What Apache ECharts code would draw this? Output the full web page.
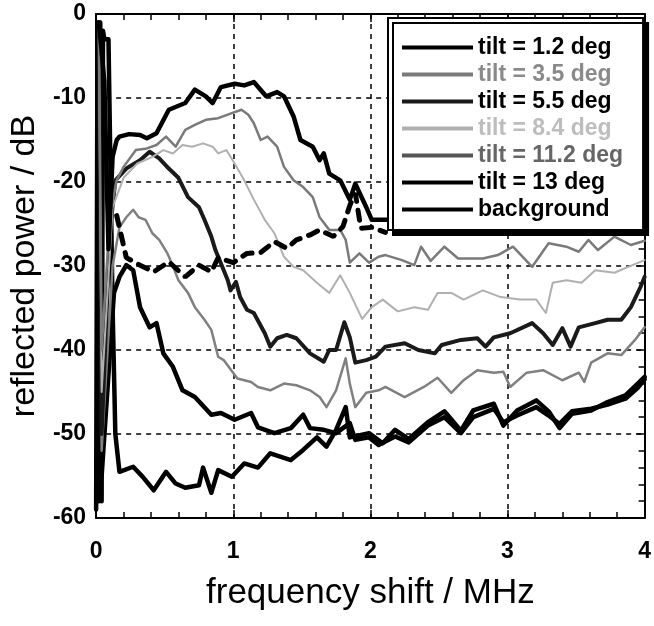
<!DOCTYPE html>
<html lang="en">
<head>
    <meta charset="utf-8">
    <title>reflected power vs frequency shift</title>
    <style>
        html, body { margin: 0; padding: 0; background: #fff; }
        #main { width: 654px; height: 626px; }
    </style>
</head>
<body>
<div id="main"></div>
<script src="https://cdn.jsdelivr.net/npm/echarts@6.0.0/dist/echarts.min.js"></script>
<script type="text/javascript">

    // frequency shift (MHz) / reflected power (dB)
    var tilt12X = [0.02, 0.06, 0.09, 0.12, 0.15, 0.17, 0.24, 0.32, 0.37, 0.44, 0.53, 0.65, 0.72, 0.80, 0.85, 0.91, 1.01, 1.08, 1.15, 1.24, 1.32, 1.37, 1.44, 1.49, 1.58, 1.63, 1.66, 1.70, 1.78, 1.85, 1.89, 1.97, 2.01, 2.13, 2.5, 3.0, 3.5, 4.0];
    var tilt12Y = [-1, -8, -28, -17, -15.0, -14.6, -14.3, -14.4, -14.8, -14.2, -11.4, -10.6, -9.0, -9.8, -10.6, -8.7, -8.3, -8.5, -8.1, -9.8, -9.3, -9.8, -12.2, -15.0, -15.8, -17.4, -16.6, -19.0, -19.8, -22.1, -20.2, -23.0, -24.5, -24.5, -23.5, -23, -22.5, -22];

    var tilt35X = [0.02, 0.04, 0.10, 0.15, 0.20, 0.29, 0.37, 0.44, 0.51, 0.58, 0.65, 0.72, 0.80, 0.89, 0.99, 1.06, 1.11, 1.15, 1.20, 1.25, 1.32, 1.37, 1.44, 1.51, 1.58, 1.63, 1.70, 1.78, 1.82, 1.85, 1.92, 1.99, 2.06, 2.11, 2.23, 2.32, 2.37, 2.44, 2.54, 2.64, 2.82, 2.93, 3.04, 3.18, 3.30, 3.43, 3.52, 3.59, 3.66, 3.78, 3.90, 4.0];
    var tilt35Y = [-2, -40, -24, -19.8, -18.2, -16.2, -16.0, -15.6, -14.6, -15.8, -13.8, -13.2, -12.6, -12.4, -11.8, -11.4, -12.0, -13.0, -15.0, -14.6, -15.8, -18.2, -19.8, -20.6, -21.8, -24.2, -25.7, -25.7, -26.9, -29.6, -28.5, -29.6, -28.9, -28.7, -29.3, -29.9, -27.7, -29.4, -27.7, -29.1, -29.1, -28.7, -27.7, -30.1, -27.3, -27.7, -28.3, -26.9, -28.1, -26.5, -27.5, -27];

    var tilt55X = [0.02, 0.04, 0.10, 0.14, 0.22, 0.32, 0.39, 0.46, 0.53, 0.60, 0.67, 0.75, 0.79, 0.84, 0.87, 0.92, 0.96, 0.98, 1.02, 1.05, 1.10, 1.15, 1.23, 1.27, 1.32, 1.39, 1.46, 1.56, 1.66, 1.70, 1.75, 1.81, 1.85, 1.89, 1.97, 2.04, 2.11, 2.25, 2.35, 2.47, 2.52, 2.66, 2.78, 2.84, 2.90, 3.02, 3.18, 3.26, 3.33, 3.40, 3.46, 3.52, 3.64, 3.73, 3.83, 3.90, 3.97, 4.0];
    var tilt55Y = [-1, -50, -26, -19.8, -18.4, -17.4, -16.4, -17.2, -18.4, -19.5, -21.8, -23.0, -24.5, -26.5, -28.1, -30.1, -31.7, -32.9, -31.9, -33.7, -35.2, -35.6, -38.0, -39.6, -38.6, -38.2, -38.6, -40.4, -41.4, -40.0, -40.0, -36.7, -38.5, -41.5, -41.2, -40.8, -39.6, -39.2, -40.0, -40.4, -39.4, -38.8, -38.6, -39.6, -38.5, -38.0, -36.8, -38.0, -39.4, -37.4, -39.6, -37.3, -36.8, -36.4, -36.4, -34.9, -32.5, -31.3];

    var tilt84X = [0.02, 0.04, 0.12, 0.2, 0.3, 0.41, 0.49, 0.56, 0.63, 0.70, 0.78, 0.85, 0.89, 0.95, 1.01, 1.08, 1.15, 1.23, 1.30, 1.37, 1.44, 1.51, 1.61, 1.70, 1.78, 1.85, 1.94, 2.01, 2.09, 2.2, 2.32, 2.42, 2.49, 2.59, 2.68, 2.82, 2.95, 3.09, 3.21, 3.28, 3.33, 3.43, 3.54, 3.64, 3.78, 3.88, 4.0];
    var tilt84Y = [-3, -45, -23, -19.5, -17.8, -17.0, -16.2, -16.6, -15.6, -15.8, -15.4, -15.8, -16.6, -16.2, -17.8, -19.8, -22.1, -24.5, -26.1, -28.9, -30.1, -30.5, -32.0, -33.2, -31.1, -33.2, -36.3, -34.9, -34.0, -35.4, -34.9, -35.2, -33.2, -33.2, -34.0, -32.9, -33.7, -34.0, -34.0, -35.6, -32.0, -31.7, -32.0, -30.5, -30.8, -30.1, -29.3];

    var tilt112X = [0.02, 0.04, 0.12, 0.17, 0.22, 0.27, 0.31, 0.36, 0.41, 0.46, 0.52, 0.55, 0.60, 0.67, 0.72, 0.79, 0.84, 0.89, 0.93, 1.03, 1.13, 1.18, 1.27, 1.37, 1.46, 1.56, 1.63, 1.68, 1.75, 1.82, 1.85, 1.89, 1.97, 2.06, 2.11, 2.25, 2.39, 2.49, 2.59, 2.68, 2.78, 2.90, 2.97, 3.02, 3.14, 3.26, 3.40, 3.52, 3.56, 3.61, 3.73, 3.83, 3.93, 4.0];
    var tilt112Y = [-2, -52, -30, -25.4, -24.2, -23.3, -24.2, -24.5, -26.1, -26.9, -28.5, -29.6, -31.7, -33.2, -34.9, -36.4, -37.6, -40.8, -41.2, -43.4, -43.8, -44.4, -44.8, -44.0, -44.2, -44.8, -45.6, -46.8, -44.8, -41.0, -44.0, -46.8, -45.1, -44.8, -44.4, -45.6, -44.4, -43.3, -45.1, -43.6, -42.4, -42.7, -42.6, -44.4, -42.7, -42.4, -43.6, -42.7, -43.8, -41.5, -40.4, -40.6, -38.8, -37.3];

    var tilt13X = [0.02, 0.04, 0.13, 0.17, 0.22, 0.27, 0.32, 0.39, 0.44, 0.49, 0.56, 0.63, 0.72, 0.84, 0.91, 1.01, 1.13, 1.18, 1.30, 1.42, 1.51, 1.56, 1.66, 1.75, 1.85, 1.89, 1.99, 2.06, 2.18, 2.28, 2.42, 2.54, 2.66, 2.75, 2.90, 2.97, 3.07, 3.21, 3.30, 3.38, 3.47, 3.61, 3.73, 3.86, 3.95, 4.0];
    var tilt13Y = [-1, -55, -33.2, -31.3, -29.9, -30.5, -34.9, -37.3, -36.8, -40.4, -42.0, -44.8, -45.6, -47.7, -47.5, -48.3, -47.5, -49.2, -49.9, -49.3, -47.7, -49.3, -49.5, -49.9, -48.7, -50.7, -50.4, -51.3, -50.3, -51.0, -49.0, -48.0, -49.9, -48.0, -47.0, -48.6, -47.8, -46.8, -47.8, -48.8, -47.3, -47.0, -46.5, -45.8, -44.5, -43.5];

    var backgroundX = [0.00, 0.01, 0.02, 0.03, 0.04, 0.05, 0.06, 0.09, 0.12, 0.14, 0.17, 0.27, 0.34, 0.42, 0.51, 0.58, 0.65, 0.75, 0.78, 0.84, 0.89, 0.99, 1.08, 1.18, 1.27, 1.42, 1.51, 1.61, 1.68, 1.75, 1.82, 1.85, 1.99, 2.09, 2.18, 2.28, 2.42, 2.54, 2.66, 2.75, 2.90, 2.97, 3.07, 3.21, 3.30, 3.38, 3.47, 3.61, 3.73, 3.86, 3.95, 4.0];
    var backgroundY = [-59, -1, -58, -1, -58, -2, -3, -3, -35, -50, -54.5, -53.9, -55.1, -56.7, -54.5, -55.9, -56.4, -56.1, -54.0, -57.0, -54.3, -55.1, -53.5, -54.0, -52.3, -53.1, -51.9, -50.4, -51.5, -49.5, -46.8, -50.4, -49.9, -51.1, -49.5, -50.6, -48.6, -47.3, -49.6, -47.2, -46.4, -49.0, -47.2, -46.0, -47.3, -49.3, -47.6, -47.2, -46.2, -45.4, -44.0, -43.2];

    // dashed trace (not in the legend)
    var dashedX = [0.15, 0.22, 0.32, 0.42, 0.53, 0.65, 0.75, 0.84, 0.89, 1.0, 1.10, 1.20, 1.30, 1.39, 1.46, 1.56, 1.63, 1.73, 1.80, 1.85, 1.89, 1.93, 2.01, 2.11];
    var dashedY = [-24, -29, -29.9, -30.7, -29.5, -31.3, -29.9, -30.7, -29.0, -29.6, -28.5, -28.4, -27.1, -27.9, -26.9, -26.3, -25.7, -26.5, -25.3, -22.8, -21.3, -25.5, -25.4, -26];

    var legendNames = ['tilt = 1.2 deg', 'tilt = 3.5 deg', 'tilt = 5.5 deg', 'tilt = 8.4 deg', 'tilt = 11.2 deg', 'tilt = 13 deg', 'background'];
    var legendColors = ['#000', '#8a8a8a', '#000', '#bdbdbd', '#666', '#000', '#000'];
    var legendLineColors = ['#000', '#7a7a7a', '#1a1a1a', '#b0b0b0', '#555', '#000', '#000'];

    var xTicks = [0, 1, 2, 3, 4];
    var yTicks = [-60, -50, -40, -30, -20, -10, 0];

    function pairs(xs, ys) {
        var out = [];
        for (var i = 0; i < xs.length; i++) {
            out.push([xs[i], ys[i]]);
        }
        return out;
    }

    function lineSeries(name, xs, ys, color, width) {
        return {
            name: name,
            type: 'line',
            symbol: 'none',
            data: pairs(xs, ys),
            z: 3,
            lineStyle: { color: color, width: width, join: 'round', cap: 'round' },
            itemStyle: { color: color }
        };
    }

    var font = 'Liberation Sans, Arial, Helvetica, sans-serif';

    var myChart = echarts.init(document.getElementById('main'), null, { renderer: 'canvas' });

    var axisCommon = {
        type: 'value',
        axisLine: { show: true, onZero: false, lineStyle: { color: '#000', width: 2 } },
        axisTick: { show: true, inside: true, length: 8, lineStyle: { color: '#000', width: 1.5 } },
        minorTick: { show: true, splitNumber: 5, length: 6, lineStyle: { color: '#000', width: 1.5 } },
        minorSplitLine: { show: false }
    };

    var option = {
        animation: false,
        backgroundColor: '#fff',
        grid: { left: 89, right: 7, top: 14, bottom: 108, containLabel: false },
        xAxis: [
            echarts.util.merge({
                min: xTicks[0], max: xTicks[xTicks.length - 1], interval: 1,
                position: 'bottom',
                name: 'frequency shift / MHz',
                nameLocation: 'middle',
                nameGap: 58,
                nameTextStyle: { fontFamily: font, fontSize: 35, color: '#000' },
                axisLabel: { show: true, margin: 22, fontFamily: font, fontSize: 23, fontWeight: 'bold', color: '#000' },
                splitLine: { show: true, lineStyle: { color: '#000', width: 1.5, type: [5, 5] } }
            }, axisCommon, true),
            echarts.util.merge({
                min: xTicks[0], max: xTicks[xTicks.length - 1], interval: 1,
                position: 'top',
                axisLabel: { show: false },
                splitLine: { show: false }
            }, axisCommon, true)
        ],
        yAxis: [
            echarts.util.merge({
                min: yTicks[0], max: yTicks[yTicks.length - 1], interval: 10,
                position: 'left',
                name: 'reflected power / dB',
                nameLocation: 'middle',
                nameGap: 47,
                nameTextStyle: { fontFamily: font, fontSize: 34, color: '#000' },
                axisLabel: { show: true, margin: 10, fontFamily: font, fontSize: 23, fontWeight: 'bold', color: '#000' },
                splitLine: { show: true, lineStyle: { color: '#000', width: 1.5, type: [5, 5] } }
            }, axisCommon, true),
            echarts.util.merge({
                min: yTicks[0], max: yTicks[yTicks.length - 1], interval: 10,
                position: 'right',
                axisLabel: { show: false },
                splitLine: { show: false }
            }, axisCommon, true)
        ],
        legend: {
            orient: 'vertical',
            left: 388,
            top: 18,
            padding: [18, 20, 9, 14],
            itemWidth: 71,
            itemHeight: 4,
            itemGap: 4,
            backgroundColor: '#fff',
            borderColor: '#000',
            borderWidth: 2,
            shadowColor: '#000',
            shadowBlur: 0,
            shadowOffsetX: 5,
            shadowOffsetY: 5,
            textStyle: { fontFamily: font, fontSize: 23, fontWeight: 'bold', color: '#000' },
            data: legendNames.map(function (n, i) {
                return {
                    name: n,
                    icon: 'rect',
                    itemStyle: { color: legendLineColors[i] },
                    textStyle: { color: legendColors[i] }
                };
            })
        },
        series: [
            lineSeries('background', backgroundX, backgroundY, '#000', 4.5),
            lineSeries('tilt = 13 deg', tilt13X, tilt13Y, '#000', 4.5),
            lineSeries('tilt = 11.2 deg', tilt112X, tilt112Y, '#808080', 2.5),
            lineSeries('tilt = 5.5 deg', tilt55X, tilt55Y, '#1a1a1a', 4),
            lineSeries('tilt = 8.4 deg', tilt84X, tilt84Y, '#b0b0b0', 2),
            lineSeries('tilt = 3.5 deg', tilt35X, tilt35Y, '#7a7a7a', 2.5),
            lineSeries('tilt = 1.2 deg', tilt12X, tilt12Y, '#000', 4.5),
            {
                name: 'dashed',
                type: 'line',
                symbol: 'none',
                data: pairs(dashedX, dashedY),
                z: 3,
                lineStyle: { color: '#000', width: 5, type: [10, 9], cap: 'round' }
            }
        ]
    };

    myChart.setOption(option);

</script>
</body>
</html>
